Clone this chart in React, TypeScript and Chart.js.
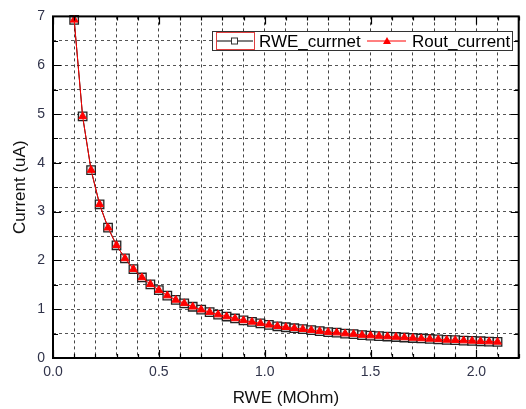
import React, { useEffect, useRef } from "react";
import { Chart, registerables } from "chart.js";

Chart.register(...registerables);

// RWE (MOhm)
const rwe = [
  0.10, 0.14, 0.18, 0.22, 0.26, 0.30, 0.34, 0.38, 0.42, 0.46,
  0.50, 0.54, 0.58, 0.62, 0.66, 0.70, 0.74, 0.78, 0.82, 0.86,
  0.90, 0.94, 0.98, 1.02, 1.06, 1.10, 1.14, 1.18, 1.22, 1.26,
  1.30, 1.34, 1.38, 1.42, 1.46, 1.50, 1.54, 1.58, 1.62, 1.66,
  1.70, 1.74, 1.78, 1.82, 1.86, 1.90, 1.94, 1.98, 2.02, 2.06, 2.10,
];
// Current (uA)
const rweCurrent = [
  6.93, 4.95, 3.85, 3.15, 2.67, 2.31, 2.04, 1.82, 1.65, 1.51,
  1.39, 1.28, 1.19, 1.12, 1.05, 0.99, 0.94, 0.89, 0.85, 0.81,
  0.77, 0.74, 0.71, 0.68, 0.65, 0.63, 0.61, 0.59, 0.57, 0.55,
  0.53, 0.52, 0.50, 0.49, 0.47, 0.46, 0.45, 0.44, 0.43, 0.42,
  0.41, 0.40, 0.39, 0.38, 0.37, 0.365, 0.357, 0.35, 0.343, 0.336, 0.33,
];
const routCurrent = [
  6.93, 4.95, 3.85, 3.15, 2.67, 2.31, 2.04, 1.82, 1.65, 1.51,
  1.39, 1.28, 1.19, 1.12, 1.05, 0.99, 0.94, 0.89, 0.85, 0.81,
  0.77, 0.74, 0.71, 0.68, 0.65, 0.63, 0.61, 0.59, 0.57, 0.55,
  0.53, 0.52, 0.50, 0.49, 0.47, 0.46, 0.45, 0.44, 0.43, 0.42,
  0.41, 0.40, 0.39, 0.38, 0.37, 0.365, 0.357, 0.35, 0.343, 0.336, 0.33,
];

const seriesNames = ["RWE_currnet", "Rout_current"];
const xTitle = "RWE (MOhm)";
const yTitle = "Current (uA)";
const xMin = 0, xMax = 2.2, xStep = 0.1, xLabelStep = 0.5;
const yMin = 0, yMax = 7, yStep = 0.5, yLabelStep = 1;

const FONT = "'Liberation Sans', Arial, sans-serif";
const TICK_COLOR = "#30334a";

const isMultiple = (v: number, s: number) =>
  Math.abs(v / s - Math.round(v / s)) < 1e-6;

const framePlugin = {
  id: "frameTicks",
  afterDraw(chart: any) {
    const { ctx, chartArea } = chart;
    const { left, right, top, bottom } = chartArea;
    const xs = chart.scales.x;
    const ys = chart.scales.y;
    ctx.save();
    ctx.strokeStyle = "#000";
    ctx.lineWidth = 1.2;
    ctx.setLineDash([]);
    for (let i = 0; i <= Math.round((xMax - xMin) / xStep); i++) {
      const v = xMin + i * xStep;
      const px = Math.round(xs.getPixelForValue(v)) + 0.5;
      const len = isMultiple(v, xLabelStep) ? 8 : 4;
      ctx.beginPath();
      ctx.moveTo(px, bottom);
      ctx.lineTo(px, bottom - len);
      ctx.moveTo(px, top);
      ctx.lineTo(px, top + len);
      ctx.stroke();
    }
    for (let i = 0; i <= Math.round((yMax - yMin) / yStep); i++) {
      const v = yMin + i * yStep;
      const py = Math.round(ys.getPixelForValue(v)) + 0.5;
      const len = isMultiple(v, yLabelStep) ? 8 : 5;
      ctx.beginPath();
      ctx.moveTo(left, py);
      ctx.lineTo(left + len, py);
      ctx.moveTo(right, py);
      ctx.lineTo(right - len, py);
      ctx.stroke();
    }
    ctx.lineWidth = 2;
    ctx.strokeRect(left, top, right - left, bottom - top);

    // legend box
    const lx = 212, ly = 31, lw = 300, lh = 19;
    ctx.fillStyle = "#fff";
    ctx.fillRect(lx, ly, lw, lh);
    ctx.lineWidth = 1;
    ctx.strokeStyle = "#333";
    ctx.strokeRect(lx + 0.5, ly + 0.5, lw, lh);
    const cy = ly + lh / 2 + 0.5;
    ctx.strokeStyle = "#e04040";
    ctx.strokeRect(216.5, 32.5, 38, 17);
    ctx.strokeStyle = "#000";
    ctx.beginPath();
    ctx.moveTo(217, cy);
    ctx.lineTo(253, cy);
    ctx.stroke();
    ctx.fillStyle = "#fff";
    ctx.fillRect(231, cy - 3.5, 7, 7);
    ctx.strokeStyle = "#333";
    ctx.strokeRect(231.5, cy - 3, 6, 6);
    ctx.strokeStyle = "#ff0000";
    ctx.beginPath();
    ctx.moveTo(367, cy);
    ctx.lineTo(406, cy);
    ctx.stroke();
    ctx.fillStyle = "#ff0000";
    ctx.beginPath();
    ctx.moveTo(387, cy - 4);
    ctx.lineTo(391, cy + 3);
    ctx.lineTo(383, cy + 3);
    ctx.closePath();
    ctx.fill();
    ctx.fillStyle = "#000";
    ctx.font = `17px ${FONT}`;
    ctx.textBaseline = "middle";
    ctx.textAlign = "left";
    ctx.fillText(seriesNames[0], 259, cy + 1);
    ctx.fillText(seriesNames[1], 412, cy + 1);
    ctx.restore();
  },
};

export default function App() {
  const ref = useRef<HTMLCanvasElement>(null);
  useEffect(() => {
    if (!ref.current) return;
    const chart = new Chart(ref.current, {
      type: "scatter",
      data: {
        datasets: [
          {
            label: seriesNames[0],
            data: rwe.map((x, i) => ({ x, y: rweCurrent[i] })),
            showLine: true,
            order: 2,
            borderColor: "#000",
            borderWidth: 1,
            pointStyle: "rect",
            pointRadius: 6,
            pointBackgroundColor: "#e8e8e8",
            pointBorderColor: "#222",
            pointBorderWidth: 1.3,
            clip: false as any,
          },
          {
            label: seriesNames[1],
            data: rwe.map((x, i) => ({ x, y: routCurrent[i] })),
            showLine: true,
            order: 1,
            borderColor: "#ff0000",
            borderWidth: 1,
            pointStyle: "triangle",
            pointRadius: 4.5,
            pointBackgroundColor: "#ff0000",
            pointBorderColor: "#ff0000",
            pointBorderWidth: 1,
            clip: false as any,
          },
        ],
      },
      options: {
        responsive: false,
        animation: false,
        devicePixelRatio: 1,
        layout: { padding: { top: 16, right: 0, left: 0, bottom: 0 } },
        plugins: {
          legend: { display: false },
          tooltip: { enabled: false },
        },
        scales: {
          x: {
            type: "linear",
            min: xMin,
            max: xMax,
            afterFit: (s: any) => {
              s.height = 51;
            },
            border: { display: false, dash: [3, 3] },
            grid: { color: "#444", lineWidth: 1, drawTicks: false },
            ticks: {
              stepSize: xStep,
              autoSkip: false,
              maxRotation: 0,
              padding: 6,
              color: TICK_COLOR,
              font: { family: FONT, size: 14 },
              callback: (v: any) =>
                isMultiple(Number(v), xLabelStep) ? Number(v).toFixed(1) : "",
            },
            title: {
              display: true,
              text: xTitle,
              color: "#111",
              font: { family: FONT, size: 17 },
              padding: { top: 0, bottom: 0 },
            },
          },
          y: {
            type: "linear",
            min: yMin,
            max: yMax,
            afterFit: (s: any) => {
              s.width = 53;
            },
            border: { display: false, dash: [3, 3] },
            grid: { color: "#555", lineWidth: 1, drawTicks: false },
            ticks: {
              stepSize: yStep,
              autoSkip: false,
              padding: 8,
              color: TICK_COLOR,
              font: { family: FONT, size: 14 },
              callback: (v: any) =>
                isMultiple(Number(v), yLabelStep) ? String(Math.round(Number(v))) : "",
            },
            title: {
              display: true,
              text: yTitle,
              color: "#111",
              font: { family: FONT, size: 17 },
              padding: { top: 10, bottom: 0 },
            },
          },
        },
      },
      plugins: [framePlugin],
    });
    return () => chart.destroy();
  }, []);
  return (
    <div style={{ position: "fixed", left: 0, top: 0, width: 526, height: 409, background: "#fff" }}>
      <canvas ref={ref} width={526} height={409} style={{ display: "block" }} />
    </div>
  );
}
